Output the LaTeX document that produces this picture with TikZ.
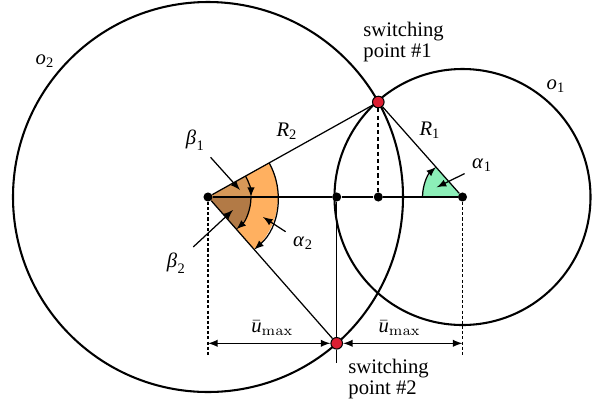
\documentclass[tikz,border=0pt]{standalone}
\usepackage{amsmath}
\usepackage{mathspec}
\setmainfont{Liberation Serif}
\setmathsfont(Digits,Latin,Greek){Liberation Serif}
\definecolor{wedgeorange}{RGB}{255,176,96}
\definecolor{wedgebrownA}{RGB}{214,152,88}
\definecolor{wedgebrownB}{RGB}{178,122,70}
\definecolor{wedgegreen}{RGB}{140,238,184}
\definecolor{swred}{RGB}{220,30,50}

\begin{document}
\begin{tikzpicture}[x=0.017cm,y=0.017cm,
  blackdot/.style={circle,fill=black,inner sep=0pt,minimum size=4.4pt},
  reddot/.style={circle,draw=black,line width=0.5pt,fill=swred,inner sep=0pt,minimum size=5.6pt},
  ring/.style={line width=1pt},
  leg/.style={line width=0.6pt},
  guide/.style={line width=0.5pt,dash pattern=on 1.5pt off 1pt},
  drop/.style={line width=1pt,dash pattern=on 2pt off 1.5pt},
  pointer/.style={line width=0.6pt,-latex},
  dimline/.style={line width=0.6pt,latex-latex}]
  \useasboundingbox (-208,-210) rectangle (397,197);
  \coordinate (C2) at (0,0);
  \coordinate (C1) at (254.5,0);
  \coordinate (M) at (128.7,0);
  \coordinate (F) at (170.3,0);
  \coordinate (S1) at (170.3,95);
  \coordinate (S2) at (128.7,-146.3);

  \fill[wedgeorange] (C2) -- ++(29.15:70) arc[start angle=29.15,end angle=-48.66,radius=70] -- cycle;
  \fill[wedgebrownA] (C2) -- ++(29.15:43) arc[start angle=29.15,end angle=0,radius=43] -- cycle;
  \fill[wedgebrownB] (C2) -- ++(0:43) arc[start angle=0,end angle=-48.66,radius=43] -- cycle;
  \fill[wedgegreen] (C1) -- ++(131.55:40) arc[start angle=131.55,end angle=180,radius=40] -- cycle;

  \draw[ring] (C2) circle[radius=195];
  \draw[ring] (C1) circle[radius=128];

  \node[blackdot] (c2dot) at (C2) {};
  \node[blackdot] (mdot) at (M) {};
  \node[blackdot] (fdot) at (F) {};
  \node[blackdot] (c1dot) at (C1) {};
  \node[reddot] (s1dot) at (S1) {};
  \node[reddot] (s2dot) at (S2) {};

  \draw[leg] (c2dot) -- (mdot) -- (fdot) -- (c1dot);
  \draw[leg] (c2dot) -- (s1dot);
  \draw[leg] (c2dot) -- (s2dot);
  \draw[leg] (c1dot) -- (s1dot);
  \coordinate (Vend) at (128.7,-166);
  \draw[leg] (mdot) -- (s2dot) -- (Vend);
  \draw[drop] (s1dot) -- (fdot);
  \coordinate (C2foot) at (0,-160);
  \coordinate (C1foot) at (254.5,-160);
  \draw[guide] (c2dot) -- (C2foot);
  \draw[guide] (c1dot) -- (C1foot);

  \coordinate (DL) at (0,-146.3);
  \coordinate (DR) at (254.5,-146.3);
  \draw[dimline] (DL) -- (s2dot);
  \draw[dimline] (s2dot) -- (DR);
  \node (ul) at (64.3,-131) {$\bar{u}_{\mathrm{max}}$};
  \node (ur) at (191.6,-131) {$\bar{u}_{\mathrm{max}}$};

  \draw[pointer] (C2) ++(29.15:43) arc[start angle=29.15,end angle=0,radius=43];
  \draw[pointer] (C2) ++(0:43) arc[start angle=0,end angle=-48.66,radius=43];
  \draw[pointer] (C2) ++(29.15:70) arc[start angle=29.15,end angle=-48.66,radius=70];
  \draw[pointer] (C1) ++(180:40) arc[start angle=180,end angle=131.55,radius=40];

  \node (o2lab) at (-163,136) {$o_2$};
  \node (o1lab) at (348,111) {$o_1$};
  \node (R2lab) at (79,66) {$R_2$};
  \node (R1lab) at (222,67) {$R_1$};
  \node (b1lab) at (-13,57) {$\beta_1$};
  \node (b2lab) at (-32,-66) {$\beta_2$};
  \node (a2lab) at (95,-46) {$\alpha_2$};
  \node (a1lab) at (274,32) {$\alpha_1$};
  \coordinate (b1tip) at (32,7);
  \coordinate (b2tip) at (25,-13);
  \coordinate (a2tip) at (55,-20);
  \coordinate (a1tip) at (228.7,9.7);
  \draw[pointer] (b1lab) -- (b1tip);
  \draw[pointer] (b2lab) -- (b2tip);
  \draw[pointer] (a2lab) -- (a2tip);
  \draw[pointer] (a1lab) -- (a1tip);

  \node[align=left,anchor=west,inner sep=0pt] (sw1) at (155,155) {switching\\[-1.5pt]point \#1};
  \node[align=left,anchor=west,inner sep=0pt] (sw2) at (140,-182) {switching\\[-1.5pt]point \#2};
\end{tikzpicture}
\end{document}
